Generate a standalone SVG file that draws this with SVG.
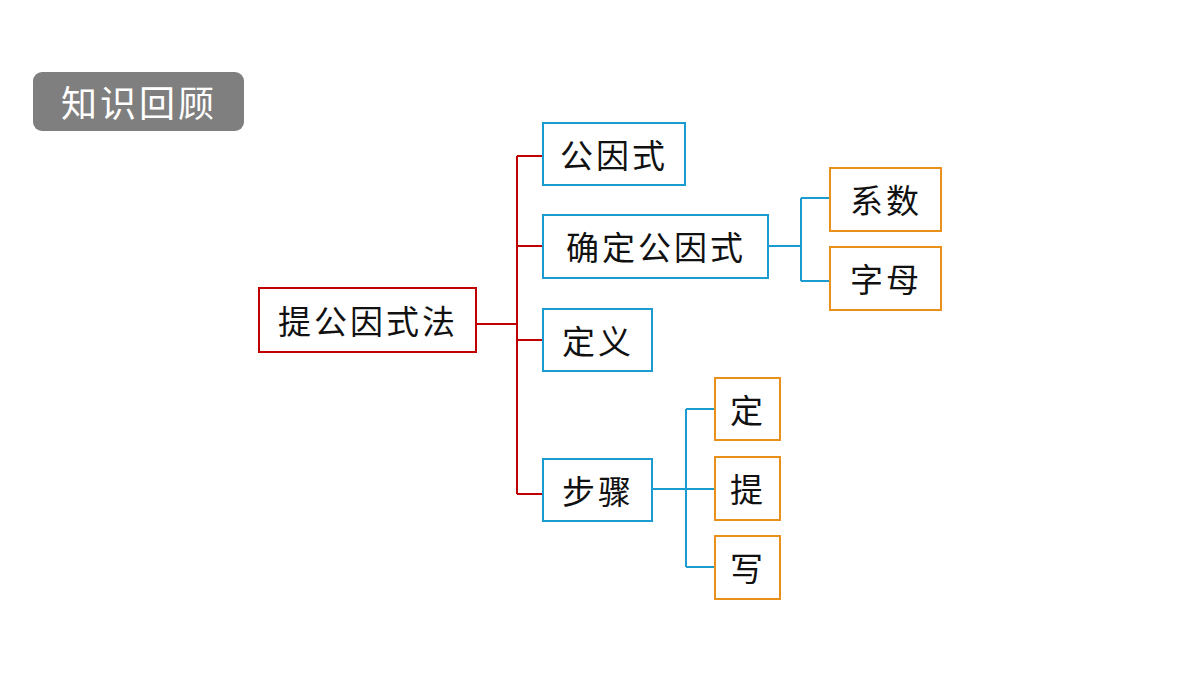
<svg xmlns="http://www.w3.org/2000/svg" width="1200" height="675" viewBox="0 0 1200 675">
<style>
text{font-family:"Noto Sans CJK SC","Noto Sans",sans-serif;font-size:33px;fill:#111;text-anchor:middle;dominant-baseline:central;letter-spacing:3px}
.r{fill:#fff;stroke:#c00000;stroke-width:2}
.b{fill:#fff;stroke:#1a9cd0;stroke-width:2}
.o{fill:#fff;stroke:#e8901a;stroke-width:2}
.lr{fill:none;stroke:#c00000;stroke-width:2}
.lb{fill:none;stroke:#1a9cd0;stroke-width:2}
</style>
<rect width="1200" height="675" fill="#fff"/>
<g id="title"><rect x="33" y="72" width="211" height="59" rx="9" fill="#7f7f7f"/><text x="139" y="101" style="fill:#fff;font-size:36px">知识回顾</text></g>
<g id="connectors">
<path class="lr" d="M476 324H517M517 156V494M517 156H543M517 246H543M517 340H543M517 494H543"/>
<path class="lb" d="M768 246H801M801 198V281M801 198H830M801 281H830"/>
<path class="lb" d="M652 489H686M686 409V567M686 409H715M686 489H715M686 567H715"/>
</g>
<g id="root"><rect class="r" x="259" y="288" width="217" height="64"/><text x="368" y="320">提公因式法</text></g>
<g id="n1"><rect class="b" x="543" y="123" width="142" height="62"/><text x="614" y="154">公因式</text></g>
<g id="n2"><rect class="b" x="543" y="215" width="225" height="63"/><text x="656" y="246">确定公因式</text></g>
<g id="n3"><rect class="b" x="543" y="309" width="109" height="62"/><text x="598" y="340">定义</text></g>
<g id="n4"><rect class="b" x="543" y="459" width="109" height="62"/><text x="598" y="490">步骤</text></g>
<g id="n5"><rect class="o" x="830" y="168" width="111" height="63"/><text x="886" y="199">系数</text></g>
<g id="n6"><rect class="o" x="830" y="247" width="111" height="63"/><text x="886" y="278">字母</text></g>
<g id="n7"><rect class="o" x="715" y="378" width="65" height="62"/><text x="748" y="409">定</text></g>
<g id="n8"><rect class="o" x="715" y="457" width="65" height="63"/><text x="748" y="488">提</text></g>
<g id="n9"><rect class="o" x="715" y="536" width="65" height="63"/><text x="748" y="567">写</text></g>
</svg>
